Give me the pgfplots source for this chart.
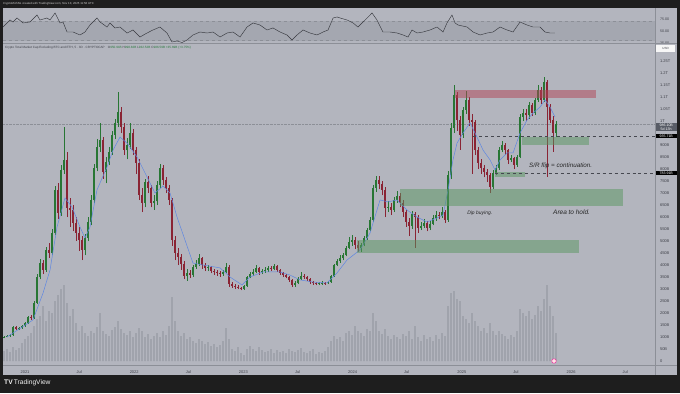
\documentclass[border=0pt]{standalone}
\usepackage{fontspec}
\setmainfont{Liberation Sans}
\usepackage{pgfplots}
\pgfplotsset{compat=1.18}
\usepackage{pgfplotstable}
\usepgfplotslibrary{fillbetween}

\definecolor{framebg}{RGB}{30,30,30}
\definecolor{panebg}{RGB}{179,181,190}
\definecolor{rsiband}{RGB}{164,167,176}
\definecolor{sepgray}{RGB}{140,143,151}
\definecolor{ticktext}{RGB}{62,64,72}
\definecolor{upc}{RGB}{40,118,52}
\definecolor{dnc}{RGB}{138,36,52}
\definecolor{mablue}{RGB}{95,135,225}
\definecolor{volgray}{RGB}{128,131,140}
\definecolor{boxgreen}{RGB}{88,150,96}
\definecolor{boxred}{RGB}{178,68,86}
\definecolor{rsiline}{RGB}{55,57,63}
\definecolor{obgreen}{RGB}{110,172,110}
\definecolor{leggreen}{RGB}{40,120,60}
\definecolor{pricebox}{RGB}{88,92,102}
\definecolor{dashcol}{RGB}{70,72,80}

% up candles: date, open, high, low, close (billion USD), volume
\pgfplotstableread{
x o h l c v
2020.808 96 104 94 100 10
2020.835 100 107 98 104 12
2020.863 104 112 101 108 9
2020.890 108 146 106 142 14
2020.945 133 141 129 138 13
2020.973 138 150 134 146 18
2021.000 146 163 143 158 22
2021.028 158 188 155 183 25
2021.082 179 250 176 242 35
2021.110 242 362 238 350 42
2021.137 350 425 340 408 45
2021.192 379 475 370 463 40
2021.247 450 550 440 533 48
2021.275 533 730 525 713 60
2021.330 617 815 605 796 72
2021.357 796 975 780 838 76
2021.549 463 530 440 513 28
2021.577 513 600 500 579 25
2021.604 579 690 565 671 30
2021.632 671 820 660 804 28
2021.659 804 925 790 892 34
2021.687 892 992 870 921 48
2021.742 788 850 740 829 27
2021.769 829 890 815 871 25
2021.797 871 960 860 942 31
2021.824 942 1010 925 992 34
2021.852 992 1121 975 1038 40
2021.934 879 930 840 900 26
2021.962 900 990 885 950 30
2022.099 658 760 640 746 24
2022.181 658 690 630 665 25
2022.209 665 750 650 733 28
2022.236 733 820 720 804 24
2022.484 354 385 335 367 22
2022.538 358 400 350 392 20
2022.566 392 420 385 404 18
2022.593 404 445 395 429 22
2022.676 388 400 375 390 19
2022.813 363 380 355 371 20
2022.841 371 410 365 392 33
2023.005 300 318 296 313 6
2023.033 313 356 310 350 12
2023.060 350 372 345 363 15
2023.088 363 382 356 371 12
2023.115 371 398 365 388 10
2023.170 371 385 362 375 11
2023.198 375 390 368 379 9
2023.225 379 396 372 388 10
2023.280 384 404 378 396 8
2023.473 317 332 310 325 9
2023.500 325 350 320 342 11
2023.527 342 372 338 354 13
2023.692 321 330 316 323 9
2023.720 323 332 318 325 8
2023.775 323 335 320 329 14
2023.802 329 360 326 354 20
2023.830 354 406 350 400 25
2023.857 400 425 395 417 22
2023.885 417 440 410 429 24
2023.912 429 450 420 442 20
2023.940 442 480 436 471 28
2023.967 471 515 465 496 30
2023.995 496 525 480 504 26
2024.077 471 492 455 483 28
2024.104 483 520 478 513 25
2024.132 513 555 505 546 32
2024.159 546 600 540 588 30
2024.187 588 735 580 721 48
2024.214 721 770 705 754 40
2024.324 638 665 620 642 25
2024.379 629 685 620 671 26
2024.407 671 710 660 688 24
2024.544 563 625 550 613 22
2024.626 554 580 545 563 20
2024.654 563 590 555 575 26
2024.709 554 585 545 571 24
2024.736 571 610 565 596 20
2024.764 596 625 585 608 26
2024.819 604 640 595 621 28
2024.874 588 790 580 775 55
2024.901 775 990 760 971 68
2024.929 971 1150 950 1108 70
2025.011 942 1060 930 1046 45
2025.038 1046 1125 1030 1088 42
2025.286 725 795 715 783 30
2025.313 783 815 775 804 26
2025.341 804 890 795 879 30
2025.368 879 915 870 900 27
2025.451 838 860 830 845 26
2025.505 817 860 810 850 30
2025.533 850 1030 845 1017 52
2025.560 1017 1050 1000 1033 48
2025.615 1025 1080 1010 1067 50
2025.670 1033 1095 1025 1088 46
2025.698 1088 1150 1080 1129 55
2025.753 1088 1183 1080 1163 62
2025.863 951 999 933 987 28
}\updata

% down candles
\pgfplotstableread{
x o h l c v
2020.918 142 147 130 133 11
2021.055 183 192 172 179 28
2021.165 408 420 362 379 55
2021.220 463 490 430 450 50
2021.302 713 740 590 617 66
2021.385 838 870 600 638 58
2021.412 638 680 560 629 45
2021.440 629 650 540 575 52
2021.467 575 600 500 533 38
2021.495 533 560 460 504 30
2021.522 504 520 420 463 35
2021.714 921 935 760 788 30
2021.879 1038 1060 950 975 32
2021.907 975 990 860 879 28
2021.989 950 965 860 879 24
2022.016 879 890 780 825 28
2022.044 825 840 670 692 33
2022.071 692 720 620 658 30
2022.126 746 770 700 721 27
2022.154 721 735 640 658 22
2022.264 804 815 735 754 30
2022.291 754 765 700 721 26
2022.319 721 735 650 671 35
2022.346 671 680 480 504 64
2022.374 504 520 420 450 40
2022.401 450 470 400 433 30
2022.429 433 445 380 404 25
2022.456 404 415 340 354 28
2022.511 367 380 345 358 24
2022.621 429 435 385 400 20
2022.648 400 410 375 388 17
2022.703 390 395 365 375 15
2022.731 375 385 360 371 17
2022.758 371 380 355 367 14
2022.786 367 375 352 363 16
2022.868 392 398 310 321 22
2022.896 321 330 305 313 12
2022.923 313 320 300 308 10
2022.951 308 315 298 304 14
2022.978 304 310 294 300 8
2023.143 388 392 360 371 14
2023.253 388 395 374 384 12
2023.308 396 400 372 379 11
2023.335 379 384 360 367 9
2023.363 367 372 350 358 10
2023.390 358 364 344 350 8
2023.418 350 355 330 338 12
2023.445 338 342 308 317 10
2023.555 354 362 342 350 9
2023.582 350 355 335 342 8
2023.610 342 346 322 329 10
2023.637 329 334 318 325 12
2023.665 325 330 315 321 7
2023.747 325 330 318 323 10
2024.022 504 515 465 483 35
2024.049 483 500 455 471 30
2024.242 754 770 715 738 30
2024.269 738 750 690 713 27
2024.297 713 725 600 638 32
2024.352 642 660 610 629 22
2024.434 688 700 640 658 22
2024.462 658 670 600 621 27
2024.489 621 630 560 579 25
2024.516 579 595 520 563 30
2024.571 613 620 471 600 35
2024.599 600 610 535 554 24
2024.681 575 585 540 554 22
2024.791 608 620 590 604 22
2024.846 621 630 575 588 25
2024.956 1108 1120 960 1004 62
2024.984 1004 1020 880 942 60
2025.066 1088 1100 980 1004 38
2025.093 1004 1030 780 996 48
2025.121 996 1005 860 879 40
2025.148 879 890 800 825 35
2025.176 825 840 780 804 30
2025.203 804 815 765 788 33
2025.231 788 800 745 775 28
2025.258 775 785 700 725 38
2025.396 900 910 860 879 25
2025.423 879 885 820 838 22
2025.478 845 850 800 817 24
2025.588 1033 1050 1000 1025 45
2025.643 1067 1075 1020 1033 42
2025.725 1129 1140 1070 1088 50
2025.780 1163 1170 767 1058 76
2025.808 1058 1070 990 1004 55
2025.835 1004 1020 871 951 45
}\dndata

% moving average (billion USD)
\pgfplotstableread{
x m
2020.835 100
2021.073 171
2021.165 283
2021.229 379
2021.293 558
2021.366 679
2021.430 642
2021.504 558
2021.549 513
2021.595 558
2021.659 713
2021.751 808
2021.806 879
2021.870 933
2021.934 908
2022.026 850
2022.117 767
2022.190 700
2022.264 729
2022.328 700
2022.392 600
2022.465 504
2022.538 408
2022.630 400
2022.786 388
2022.877 350
2022.987 317
2023.060 350
2023.179 371
2023.335 371
2023.427 358
2023.518 338
2023.637 329
2023.766 325
2023.857 367
2023.949 421
2024.068 463
2024.159 533
2024.251 671
2024.324 663
2024.407 671
2024.498 629
2024.590 600
2024.681 579
2024.773 596
2024.828 608
2024.874 713
2024.919 838
2024.956 908
2025.011 950
2025.075 992
2025.139 933
2025.194 879
2025.258 838
2025.304 796
2025.350 838
2025.414 867
2025.469 867
2025.533 950
2025.597 1004
2025.652 1033
2025.716 1058
2025.762 1088
2025.808 1058
2025.853 1017
}\madata

% RSI
\pgfplotstableread{
x r
2020.799 58.3
2020.863 72.9
2020.890 68.8
2020.927 77.1
2020.982 66.7
2021.046 68.8
2021.110 83.3
2021.137 72.9
2021.201 77.1
2021.229 72.9
2021.275 87.5
2021.321 66.7
2021.348 68.8
2021.385 47.9
2021.440 47.9
2021.504 41.7
2021.549 47.9
2021.595 62.5
2021.659 77.1
2021.687 68.8
2021.751 58.3
2021.778 66.7
2021.824 56.3
2021.870 58.3
2021.934 45.8
2021.989 52.1
2022.053 37.5
2022.117 45.8
2022.172 52.1
2022.236 58.3
2022.300 45.8
2022.346 27.1
2022.392 29.2
2022.438 26.0
2022.484 31.3
2022.538 41.7
2022.603 47.9
2022.667 45.8
2022.722 47.9
2022.786 37.5
2022.850 45.8
2022.905 47.9
2022.969 37.5
2023.033 58.3
2023.088 66.7
2023.152 62.5
2023.216 52.1
2023.271 56.3
2023.335 47.9
2023.399 41.7
2023.445 31.3
2023.491 41.7
2023.546 52.1
2023.610 45.8
2023.674 41.7
2023.729 47.9
2023.775 52.1
2023.821 77.1
2023.857 79.2
2023.885 77.1
2023.949 72.9
2024.004 66.7
2024.049 58.3
2024.114 72.9
2024.178 87.5
2024.223 72.9
2024.278 47.9
2024.342 47.9
2024.407 45.8
2024.462 41.7
2024.507 37.5
2024.544 52.1
2024.590 45.8
2024.645 47.9
2024.709 52.1
2024.773 58.3
2024.828 47.9
2024.864 66.7
2024.910 83.3
2024.938 66.7
2024.965 62.5
2025.048 58.3
2025.103 47.9
2025.167 41.7
2025.231 45.8
2025.286 47.9
2025.350 58.3
2025.414 52.1
2025.469 47.9
2025.533 68.8
2025.597 62.5
2025.652 58.3
2025.716 58.3
2025.762 47.9
2025.808 45.8
2025.853 45.8
}\rsidata

\begin{document}
\begin{tikzpicture}[x=1bp,y=1bp]
\fill[framebg] (0,0) rectangle (680,393);
\fill[panebg] (3,18.5) rectangle (677,385);

% ---------- RSI pane ----------
\begin{axis}[at={(3bp,350bp)}, anchor=south west, scale only axis,
  width=652bp, height=35bp,
  xmin=2020.7985, xmax=2026.769, ymin=25, ymax=97.92,
  axis line style={draw=none}, major tick length=0pt, xtick=\empty,
  ytick={25,50,75}, yticklabels={25.00,50.00,75.00}, yticklabel pos=right,
  tick label style={font=\fontsize{3.6}{3.6}\selectfont, text=ticktext},
  yticklabel style={xshift=1.5bp}, clip mode=individual]
\addplot[fill=rsiband, draw=none] coordinates {(2020.7985,30) (2026.769,30) (2026.769,70) (2020.7985,70)} -- cycle;
\addplot[dashed, sepgray, line width=0.4bp] coordinates {(2020.7985,70) (2026.769,70)};
\addplot[dashed, sepgray, line width=0.4bp] coordinates {(2020.7985,30) (2026.769,30)};
\addplot[name path=rtop, draw=none] table[x=x, y expr={max(\thisrow{r},70)}] {\rsidata};
\addplot[name path=rsev, draw=none] coordinates {(2020.7985,70) (2026.769,70)};
\addplot[obgreen] fill between[of=rtop and rsev];
\addplot[rsiline, line width=0.45bp] table[x=x, y=r] {\rsidata};
\end{axis}

% ---------- volume ----------
\begin{axis}[at={(3bp,28bp)}, anchor=south west, scale only axis,
  width=652bp, height=320bp,
  xmin=2020.7985, xmax=2026.769, ymin=-4, ymax=316, hide axis]
\addplot[ybar, bar width=1.2bp, bar shift=0pt, fill=volgray, fill opacity=0.55, draw=none] table[x=x, y=v] {\updata};
\addplot[ybar, bar width=1.2bp, bar shift=0pt, fill=volgray, fill opacity=0.55, draw=none] table[x=x, y=v] {\dndata};
\end{axis}

% ---------- price pane ----------
\begin{axis}[at={(3bp,28bp)}, anchor=south west, scale only axis,
  width=652bp, height=320bp,
  xmin=2020.7985, xmax=2026.769, ymin=-16.67, ymax=1316.67,
  axis line style={draw=none}, major tick length=0pt,
  xtick={2021,2021.496,2022,2022.496,2023,2023.496,2024,2024.496,2025,2025.496,2026,2026.496},
  xticklabels={2021,Jul,2022,Jul,2023,Jul,2024,Jul,2025,Jul,2026,Jul},
  ytick={0,50,100,150,200,250,300,350,400,450,500,550,600,650,700,750,800,850,900,1000,1050,1100,1150,1200,1250},
  yticklabels={0,50B,100B,150B,200B,250B,300B,350B,400B,450B,500B,550B,600B,650B,700B,750B,800B,850B,900B,1T,1.05T,1.1T,1.15T,1.2T,1.25T},
  yticklabel pos=right,
  tick label style={font=\fontsize{4}{4}\selectfont, text=ticktext},
  yticklabel style={xshift=1.5bp},
  xticklabel style={yshift=-1.8bp},
  clip mode=individual]
% current price line
\addplot[densely dotted, sepgray, line width=0.4bp] coordinates {(2020.7985,986.1) (2026.769,986.1)};
% candles
\addplot[quiver={u=0,v=\thisrow{h}-\thisrow{l}}, draw=upc, line width=0.45bp] table[x=x, y=l] {\updata};
\addplot[quiver={u=0,v=\thisrow{h}-\thisrow{l}}, draw=dnc, line width=0.45bp] table[x=x, y=l] {\dndata};
\addplot[quiver={u=0,v=\thisrow{c}-\thisrow{o}}, draw=upc, line width=1.7bp] table[x=x, y=o] {\updata};
\addplot[quiver={u=0,v=\thisrow{c}-\thisrow{o}}, draw=dnc, line width=1.7bp] table[x=x, y=o] {\dndata};
% moving average
\addplot[mablue, line width=0.5bp] table[x=x, y=m] {\madata};
% zones
\addplot[fill=boxred, fill opacity=0.5, draw=none] coordinates {(2024.938,1096) (2026.229,1096) (2026.229,1129) (2024.938,1129)} -- cycle;
\addplot[fill=boxgreen, fill opacity=0.5, draw=none] coordinates {(2025.551,898) (2026.165,898) (2026.165,932) (2025.551,932)} -- cycle;
\addplot[fill=boxgreen, fill opacity=0.5, draw=none] coordinates {(2025.304,768) (2025.579,768) (2025.579,788) (2025.304,788)} -- cycle;
\addplot[fill=boxgreen, fill opacity=0.5, draw=none] coordinates {(2024.434,646) (2026.476,646) (2026.476,717) (2024.434,717)} -- cycle;
\addplot[fill=boxgreen, fill opacity=0.5, draw=none] coordinates {(2024.040,450) (2026.073,450) (2026.073,504) (2024.040,504)} -- cycle;
% levels
\addplot[dashed, dashcol, line width=0.45bp] coordinates {(2025.103,935.71) (2026.769,935.71)};
\addplot[dashed, dashcol, line width=0.45bp] coordinates {(2025.304,783.91) (2026.769,783.91)};
% notes
\node[anchor=west, inner sep=0, font=\fontsize{6.3}{7}\selectfont\itshape, text=black!85] at (axis cs:2025.615,812.5) {S/R flip = continuation.};
\node[anchor=west, inner sep=0, font=\fontsize{5}{6}\selectfont\itshape, text=black!85] at (axis cs:2025.048,616.7) {Dip buying.};
\node[anchor=west, inner sep=0, font=\fontsize{6.5}{7}\selectfont\itshape, text=black!85] at (axis cs:2025.835,620.8) {Area to hold.};
\end{axis}

% separators
\draw[sepgray, line width=1.4bp] (3,349.5) -- (677,349.5);
\draw[sepgray, line width=0.7bp] (655.5,18.5) -- (655.5,385);
\draw[sepgray, line width=0.7bp] (3,28) -- (677,28);

% header and legend
\node[anchor=west, inner sep=0, font=\fontsize{2.9}{3}\selectfont, text=white!80!black] at (3,389) {CryptoMichNL created with TradingView.com, Nov 10, 2025 11:58 UTC};
\node[anchor=west, inner sep=0, font=\fontsize{3.1}{3.5}\selectfont, text=ticktext] at (5,345) {Crypto Total Market Cap Excluding BTC and ETH, 5 · 3D · CRYPTOCAP\quad O\textcolor{leggreen}{950.91B} H\textcolor{leggreen}{998.82B} L\textcolor{leggreen}{932.52B} C\textcolor{leggreen}{986.59B} \textcolor{leggreen}{+35.69B (+3.75\%)}};

% price axis tags
\node[fill=white!94!gray, text=ticktext, font=\fontsize{3}{3}\selectfont, minimum width=19bp, minimum height=7bp, inner sep=0] at (665.5,344.5) {USD};
\node[fill=pricebox, text=white, font=\fontsize{3.6}{4.2}\selectfont, align=center, inner sep=0.8bp, minimum width=21bp, anchor=north west] at (655.5,270.5) {986.10B\\5d 13h};
\node[fill=black, text=white, font=\fontsize{3.6}{4}\selectfont, inner sep=0.8bp, minimum width=21bp, anchor=west] at (655.5,256.6) {935.71B};
\node[fill=black, text=white, font=\fontsize{3.6}{4}\selectfont, inner sep=0.8bp, minimum width=21bp, anchor=west] at (655.5,220.1) {783.91B};

% marker and logo
\node[circle, draw=magenta!80, fill=pink!40, line width=0.5bp, inner sep=0, minimum size=4.5bp] at (554,32) {};
\node[anchor=west, inner sep=0, font=\fontsize{6.7}{7}\selectfont, text=white!90!gray] at (4,10) {\textbf{TV}\,TradingView};
\end{tikzpicture}
\end{document}
